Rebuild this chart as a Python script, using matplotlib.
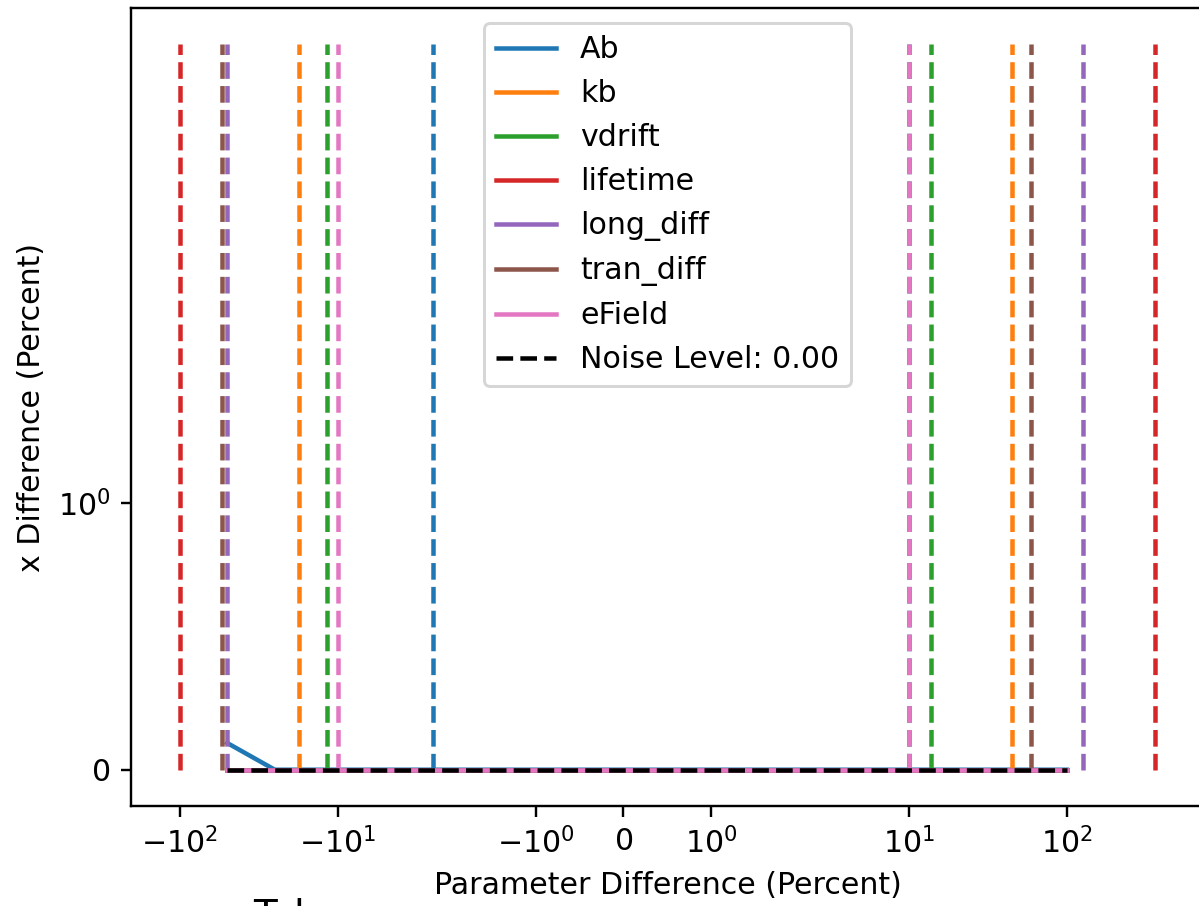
import matplotlib
matplotlib.use("Agg")
from matplotlib import pyplot as plt

# parameter names (legend order) and default colours
params = ['Ab', 'kb', 'vdrift', 'lifetime', 'long_diff', 'tran_diff', 'eField']
colors = ['tab:blue', 'tab:orange', 'tab:green', 'tab:red',
          'tab:purple', 'tab:brown', 'tab:pink']

# scanned parameter differences (percent)
x_vals = [-50, -25, -10, -5, -1, 0, 1, 5, 10, 25, 50, 100]

# x difference per parameter (percent)
y_ab = [0.1, 0, 0, 0, 0, 0, 0, 0, 0, 0, 0, 0]
y_kb = [0] * 12
y_vdrift = [0] * 12
y_lifetime = [0] * 12
y_long = [0] * 12
y_tran = [0] * 12
y_efield = [0] * 12
curves = [y_ab, y_kb, y_vdrift, y_lifetime, y_long, y_tran, y_efield]

# limits of each parameter (percent), drawn as dashed vertical lines
lim_lo = [-2.5, -17.5, -11.7, -100, -50, -54, -10]
lim_hi = [10, 44.6, 13.7, 363, 127, 59.6, 10]

noise_level = 0.0
noise_y = [noise_level] * len(x_vals)
vline_top = 5

DPI = 216
fig = plt.figure(figsize=(1199 / DPI, 906 / DPI), dpi=DPI)
ax = fig.add_axes([131 / 1199, 1 - 806 / 906, (1204 - 131) / 1199, (806 - 8) / 906])

for name, c, y, lo, hi in zip(params, colors, curves, lim_lo, lim_hi):
    ax.plot(x_vals, y, color=c, label=name)
    ax.vlines([lo, hi], 0, vline_top, colors=c, linestyles='--')

ax.plot(x_vals, noise_y, 'k--', label=f'Noise Level: {noise_level:.2f}')

ax.set_xscale('symlog')
ax.set_yscale('symlog')
ax.set_xlabel('Parameter Difference (Percent)')
ax.set_ylabel('x Difference (Percent)')
ax.legend(loc='upper center')

# title of the next panel, cut off by the figure edge
fig.text(253 / 1199, 1 - 897 / 906, 'Tolerance', va='top', fontsize=13)

fig.savefig('out.png', dpi=DPI)
